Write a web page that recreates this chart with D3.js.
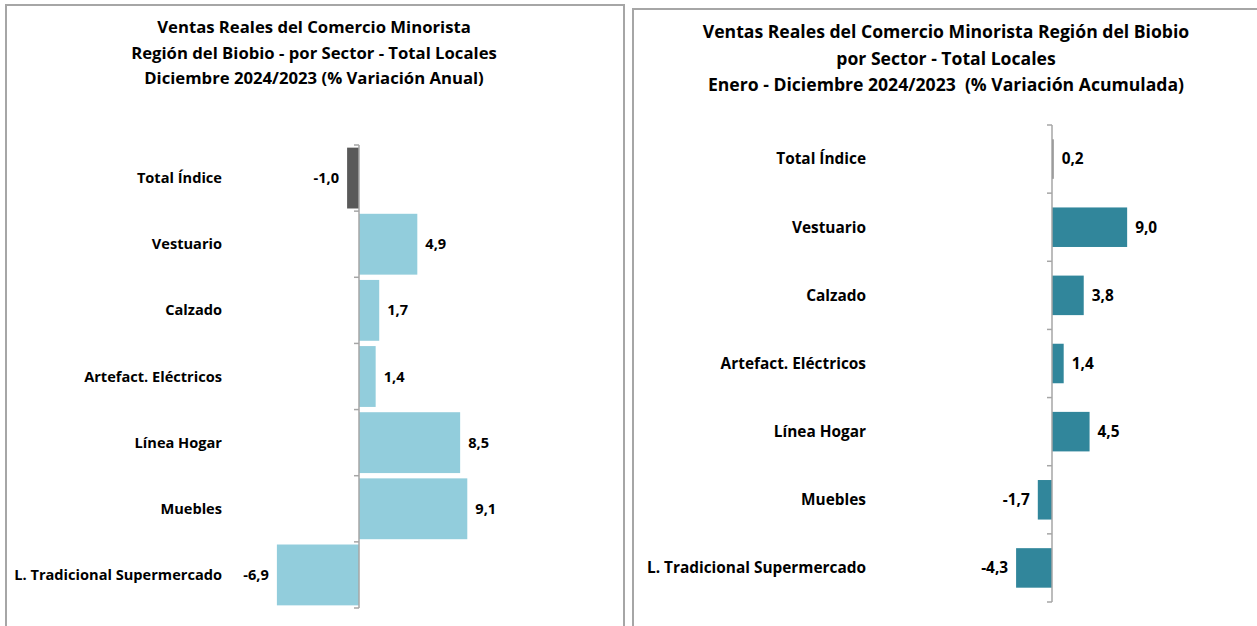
<!DOCTYPE html>
<html lang="es">
<head>
<meta charset="UTF-8">
<title>Ventas Reales del Comercio Minorista - Región del Biobio</title>
<script src="https://d3js.org/d3.v7.min.js"></script>
<style>
  body { margin: 0; background: #ffffff; font-family: "Open Sans", Lato, sans-serif; }
  svg text { font-weight: bold; fill: #000; }
</style>
</head>
<body>
<div id="viz"></div>
<script>
// Datos
var categories = ["Total Índice", "Vestuario", "Calzado", "Artefact. Eléctricos",
                  "Línea Hogar", "Muebles", "L. Tradicional Supermercado"];
var anual = [-1.0, 4.9, 1.7, 1.4, 8.5, 9.1, -6.9];
var acumulada = [0.2, 9.0, 3.8, 1.4, 4.5, -1.7, -4.3];
var titleLeft = ["Ventas Reales del Comercio Minorista",
                 "Región del Biobio - por Sector - Total Locales",
                 "Diciembre 2024/2023 (% Variación Anual)"];
var titleRight = ["Ventas Reales del Comercio Minorista Región del Biobio",
                  "por Sector - Total Locales",
                  "Enero - Diciembre 2024/2023  (% Variación Acumulada)"];

var W = 1257, H = 626;
var svg = d3.select("#viz").append("svg")
    .attr("width", W).attr("height", H);

var fmt = function(v) { return d3.format(".1f")(v).replace(".", ",").replace("\u2212", "-"); };

function panel(opt) {
  var g = svg.append("g");

  // marco
  g.append("path")
    .attr("d", opt.frame)
    .attr("fill", "none")
    .attr("stroke", "#a6a6a6")
    .attr("stroke-width", 2);

  // titulo
  g.selectAll("text.title")
    .data(opt.title)
    .enter().append("text")
      .attr("class", "title")
      .attr("x", opt.titleX)
      .attr("y", (d, i) => opt.titleY + i * opt.titleGap)
      .attr("text-anchor", "middle")
      .style("font-size", opt.titleSize + "px")
      .style("white-space", "pre")
      .text(d => d);

  var x = d3.scaleLinear().domain(opt.domain).range(opt.xRange);
  var y = d3.scaleBand().domain(categories).range(opt.yRange).paddingInner(opt.pad).paddingOuter(opt.pad / 2);

  // barras
  g.selectAll("rect.bar")
    .data(opt.values)
    .enter().append("rect")
      .attr("x", d => x(Math.min(0, d)))
      .attr("width", d => Math.abs(x(d) - x(0)))
      .attr("y", (d, i) => y(categories[i]))
      .attr("height", y.bandwidth())
      .attr("fill", (d, i) => i === 0 ? opt.totalColor : opt.color);

  // eje vertical con marcas
  var step = (opt.yRange[1] - opt.yRange[0]) / categories.length;
  var tickPos = d3.range(categories.length + 1).map(i => opt.yRange[0] + i * step);
  g.append("line")
    .attr("x1", x(0)).attr("x2", x(0))
    .attr("y1", opt.yRange[0]).attr("y2", opt.yRange[1])
    .attr("stroke", "#a6a6a6").attr("stroke-width", 1.5);
  g.selectAll("line.tick")
    .data(tickPos)
    .enter().append("line")
      .attr("x1", x(0) - 5).attr("x2", x(0))
      .attr("y1", d => d).attr("y2", d => d)
      .attr("stroke", "#a6a6a6").attr("stroke-width", 1.5);

  // etiquetas de valor
  g.selectAll("text.val")
    .data(opt.values)
    .enter().append("text")
      .attr("x", d => d < 0 ? x(d) - 8 : x(d) + 8)
      .attr("y", (d, i) => y(categories[i]) + y.bandwidth() / 2)
      .attr("dy", "0.35em")
      .attr("text-anchor", d => d < 0 ? "end" : "start")
      .style("font-size", opt.labelSize + "px")
      .text(d => fmt(d));

  // categorias
  g.selectAll("text.cat")
    .data(categories)
    .enter().append("text")
      .attr("x", opt.catX)
      .attr("y", d => y(d) + y.bandwidth() / 2)
      .attr("dy", "0.35em")
      .attr("text-anchor", "end")
      .style("font-size", opt.labelSize + "px")
      .text(d => d);
}

panel({
  frame: "M6,630 L6,5 L624,5 L624,630",
  title: titleLeft, titleX: 314, titleY: 33, titleGap: 25.5, titleSize: 16.7,
  domain: [-8, 10], xRange: [359 - 8 * 11.9, 359 + 10 * 11.9],
  yRange: [145, 608], pad: 0.08,
  values: anual, color: "#92cddc", totalColor: "#595959",
  labelSize: 14.6, catX: 222
});

panel({
  frame: "M633,630 L633,9 L1258,9",
  title: titleRight, titleX: 946, titleY: 38, titleGap: 26.5, titleSize: 17.6,
  domain: [-6, 10], xRange: [1052 - 6 * 8.35, 1052 + 10 * 8.35],
  yRange: [125, 602], pad: 0.42,
  values: acumulada, color: "#31869b", totalColor: "#808080",
  labelSize: 15.4, catX: 866
});
</script>
</body>
</html>
